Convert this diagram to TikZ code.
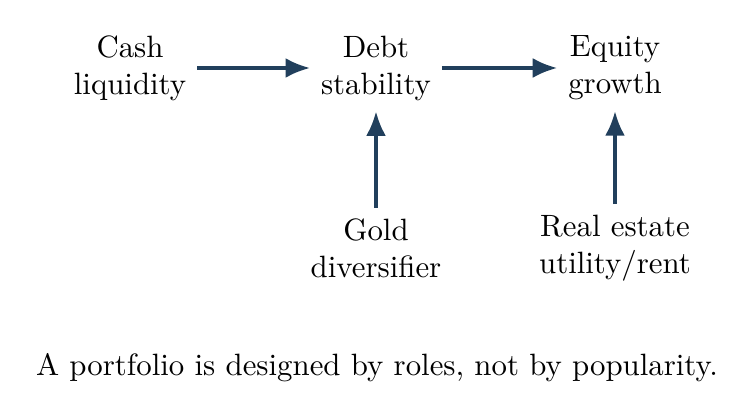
\documentclass[tikz,border=0pt]{standalone}
\usetikzlibrary{arrows.meta}
\definecolor{rolblue}{HTML}{213F5C}
\tikzset{role/.style={align=center},
  link/.style={-{Latex[length=8pt,width=6.5pt]},line width=1.25pt,rolblue}}
\begin{document}
\begin{tikzpicture}[x=0.0114cm,y=-0.0114cm]
\useasboundingbox (0,0) rectangle (755,420);
\node[role] (cash) at (130,68) {Cash\\liquidity};
\node[role] (debt) at (376,68) {Debt\\stability};
\node[role] (equity) at (615,68) {Equity\\growth};
\node[role] (gold) at (376,248) {Gold\\diversifier};
\node[role] (estate) at (615,248) {Real estate\\utility/rent};
\node (note) at (377,368) {A portfolio is designed by roles, not by popularity.};
\draw[link] (cash) -- (debt);
\draw[link] (debt) -- (equity);
\draw[link] (gold) -- (debt);
\draw[link] (estate) -- (equity);
\end{tikzpicture}
\end{document}
